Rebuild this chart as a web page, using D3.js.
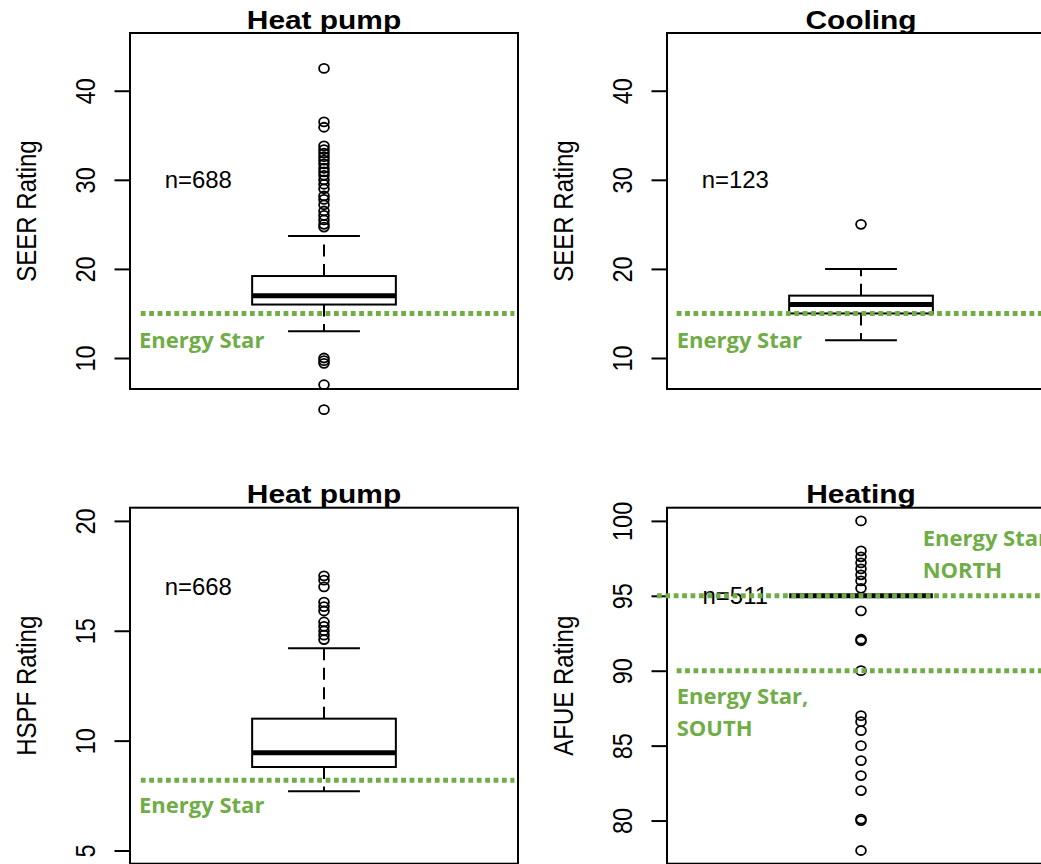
<!DOCTYPE html>
<html>
<head>
<meta charset="utf-8">
<script src="https://cdn.jsdelivr.net/npm/d3@7"></script>
<style>
  body { margin: 0; background: #fff; }
  svg { display: block; }
</style>
</head>
<body>
<svg id="chart" width="1041" height="864"></svg>
<script>
// ---- data ----
const panelTitles = ["Heat pump", "Cooling", "Heat pump", "Heating"];
const axisLabels = ["SEER Rating", "SEER Rating", "HSPF Rating", "AFUE Rating"];
const sampleSizes = [688, 123, 668, 511];
const sampleLabelLevels = [30, 30, 17, 95];
const yLimits = [[8, 45], [8, 45], [5, 20], [78, 100]];
const yTicks = [[10, 20, 30, 40], [10, 20, 30, 40], [5, 10, 15, 20], [80, 85, 90, 95, 100]];

// lower whisker, Q1, median, Q3, upper whisker
const boxStats = [
  [13.0, 16.0, 17.0, 19.2, 23.7],
  [12.0, 15.0, 16.0, 17.0, 20.0],
  [7.7, 8.8, 9.45, 11.0, 14.2],
  [95, 95, 95, 95, 95]
];

const outliersHeatPumpSeer = [42.5, 36.5, 35.9, 33.8, 33.4, 33.0, 32.6, 32.2, 31.8, 31.3, 30.9,
  30.5, 30.0, 29.5, 29.0, 28.2, 27.8, 27.2, 26.5, 26.0, 25.5, 25.0, 24.7, 10.0, 9.7, 9.4, 7.0, 4.2];
const outliersCoolingSeer = [25];
const outliersHeatPumpHspf = [17.5, 17.3, 17.0, 16.3, 16.1, 15.9, 15.4, 15.2, 15.0, 14.8, 14.6];
const outliersHeatingAfue = [100, 98, 97.6, 97.2, 96.8, 96.4, 96, 95.5, 94, 92, 92.1, 90,
  87, 86.6, 86, 85, 84, 83, 82, 80, 80.1, 78];
const outliers = [outliersHeatPumpSeer, outliersCoolingSeer, outliersHeatPumpHspf, outliersHeatingAfue];

const energyStarLevels = [[15], [15], [8.2], [95, 90]];
const energyStarLabels = [
  [["Energy Star"]],
  [["Energy Star"]],
  [["Energy Star"]],
  [["Energy Star", "NORTH"], ["Energy Star,", "SOUTH"]]
];

// ---- layout ----
const panelLeft = [130, 667, 130, 667];
const panelTop = [33, 33, 507.7, 507.7];
const W = 388, H = 356;
const stretch = 1.15;            // horizontal stretch of the device text
const green = "#70ad47";
// x extents of the reference lines, in box-axis units
const refSpans = [[[0.49, 1.53]], [[0.487, 1.6]], [[0.49, 1.53]], [[0.432, 1.6], [0.487, 1.6]]];
// green label anchors relative to the panel corner: [dx, baseline dy]
const refLabelPos = [[[9, 315]], [[9.7, 315]], [[9, 305.3]], [[255.7, 38.3], [9.7, 196.3]]];
const refLineGap = 31.5;

const svg = d3.select("#chart");
const fontR = "'Liberation Sans', Arial, Helvetica, sans-serif";

function padded(lim) {
  const d = (lim[1] - lim[0]) * 0.04;
  return [lim[0] - d, lim[1] + d];
}

panelTitles.forEach((title, i) => {
  const left = panelLeft[i], top = panelTop[i];
  const x = d3.scaleLinear().domain([0.46, 1.54]).range([left, left + W]);
  const y = d3.scaleLinear().domain(padded(yLimits[i])).range([top + H, top]);
  const g = svg.append("g");
  const [lo, q1, med, q3, hi] = boxStats[i];

  // whiskers
  g.selectAll("line.whisker").data([[q3, hi], [q1, lo]]).join("line")
    .attr("x1", x(1)).attr("x2", x(1))
    .attr("y1", d => y(d[0])).attr("y2", d => y(d[1]))
    .attr("stroke", "#000").attr("stroke-width", 2)
    .attr("stroke-dasharray", "12 7.5");
  g.selectAll("line.cap").data([hi, lo]).join("line")
    .attr("x1", x(0.9)).attr("x2", x(1.1))
    .attr("y1", d => y(d)).attr("y2", d => y(d))
    .attr("stroke", "#000").attr("stroke-width", 2);

  // box and median
  g.append("rect")
    .attr("x", x(0.8)).attr("width", x(1.2) - x(0.8))
    .attr("y", y(q3)).attr("height", Math.max(0, y(q1) - y(q3)))
    .attr("fill", "#fff").attr("stroke", "#000").attr("stroke-width", 2);
  g.append("line")
    .attr("x1", x(0.8)).attr("x2", x(1.2))
    .attr("y1", y(med)).attr("y2", y(med))
    .attr("stroke", "#000").attr("stroke-width", 5);

  // outliers
  g.selectAll("ellipse").data(outliers[i]).join("ellipse")
    .attr("cx", x(1)).attr("cy", d => y(d))
    .attr("rx", 4.9).attr("ry", 4.5)
    .attr("fill", "none").attr("stroke", "#000").attr("stroke-width", 1.8);

  // frame
  g.append("rect")
    .attr("x", left).attr("y", top).attr("width", W).attr("height", H)
    .attr("fill", "none").attr("stroke", "#000").attr("stroke-width", 2);

  // y axis
  const axis = d3.axisLeft(y).tickValues(yTicks[i]).tickSize(15.5).tickFormat(d3.format("d"));
  const ag = g.append("g").attr("transform", `translate(${left},0)`).call(axis);
  ag.select(".domain").remove();
  ag.selectAll(".tick line").attr("stroke", "#000").attr("stroke-width", 2);
  ag.selectAll(".tick text")
    .attr("x", null).attr("dy", null)
    .attr("fill", "#000")
    .attr("font-family", fontR).attr("font-size", 23.5)
    .attr("text-anchor", "middle")
    .attr("transform", `translate(-35.5,0) scale(${stretch},1) rotate(-90)`);

  // axis title
  g.append("text")
    .attr("transform", `translate(${left - 94},${top + H / 2}) scale(${stretch},1) rotate(-90)`)
    .attr("text-anchor", "middle")
    .attr("font-family", fontR).attr("font-size", 24)
    .text(axisLabels[i]);

  // panel title
  g.append("text")
    .attr("transform", `translate(${left + W / 2},${top - 4.5}) scale(${stretch},1)`)
    .attr("text-anchor", "middle")
    .attr("font-family", fontR).attr("font-weight", "bold").attr("font-size", 26)
    .text(title);

  // sample size
  g.append("text")
    .attr("transform", `translate(${x(0.65)},${y(sampleLabelLevels[i])}) scale(1.04,1)`)
    .attr("dy", "0.36em")
    .attr("text-anchor", "middle")
    .attr("font-family", fontR).attr("font-size", 23)
    .text("n=" + sampleSizes[i]);

  // Energy Star reference lines
  energyStarLevels[i].forEach((lvl, k) => {
    const span = refSpans[i][k];
    g.append("line")
      .attr("x1", x(span[0])).attr("x2", x(span[1]))
      .attr("y1", y(lvl)).attr("y2", y(lvl))
      .attr("stroke", green).attr("stroke-width", 5)
      .attr("stroke-dasharray", "4.8 3.6");
    const [dx, dy] = refLabelPos[i][k];
    const t = g.append("text")
      .attr("x", left + dx).attr("y", top + dy)
      .attr("fill", green)
      .attr("font-family", "'Open Sans', 'Noto Sans', sans-serif")
      .attr("font-weight", "bold").attr("font-size", 22);
    energyStarLabels[i][k].forEach((line, j) => {
      t.append("tspan").attr("x", left + dx).attr("y", top + dy + j * refLineGap).text(line);
    });
  });
});
</script>
</body>
</html>
